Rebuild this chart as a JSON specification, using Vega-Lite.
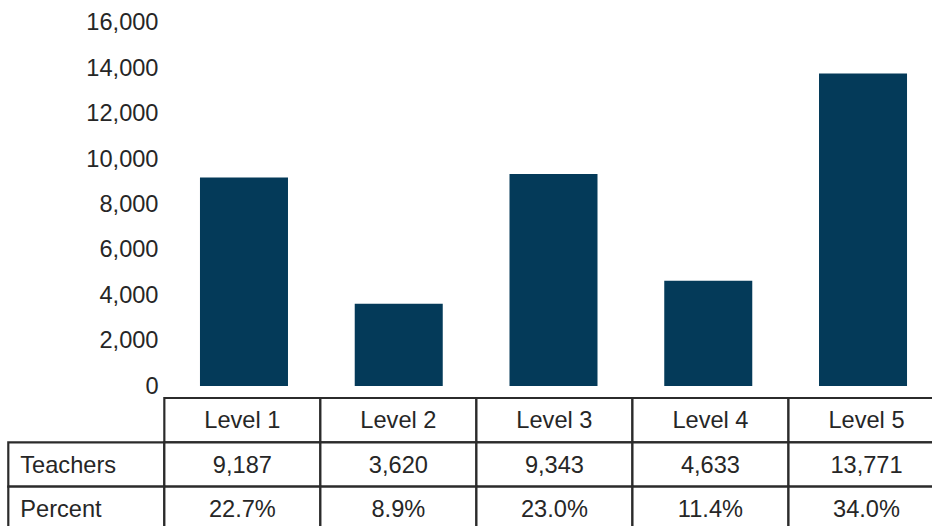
{
  "$schema": "https://vega.github.io/schema/vega-lite/v6.json",
  "width": 924,
  "height": 526,
  "autosize": {"type": "none"},
  "padding": {"left": 8, "top": 0, "right": 0, "bottom": 0},
  "background": "white",
  "config": {"view": {"stroke": null}, "font": "Liberation Sans"},
  "datasets": {
    "levels": [
      {"col": "Level 1", "teachers": 9187},
      {"col": "Level 2", "teachers": 3620},
      {"col": "Level 3", "teachers": 9343},
      {"col": "Level 4", "teachers": 4633},
      {"col": "Level 5", "teachers": 13771}
    ],
    "cells": [
      {"col": "Level 1", "row": "header", "text": "Level 1", "kind": "value"},
      {"col": "Level 2", "row": "header", "text": "Level 2", "kind": "value"},
      {"col": "Level 3", "row": "header", "text": "Level 3", "kind": "value"},
      {"col": "Level 4", "row": "header", "text": "Level 4", "kind": "value"},
      {"col": "Level 5", "row": "header", "text": "Level 5", "kind": "value"},
      {"col": "Label", "row": "Teachers", "text": "Teachers", "kind": "label"},
      {"col": "Level 1", "row": "Teachers", "text": "9,187", "kind": "value"},
      {"col": "Level 2", "row": "Teachers", "text": "3,620", "kind": "value"},
      {"col": "Level 3", "row": "Teachers", "text": "9,343", "kind": "value"},
      {"col": "Level 4", "row": "Teachers", "text": "4,633", "kind": "value"},
      {"col": "Level 5", "row": "Teachers", "text": "13,771", "kind": "value"},
      {"col": "Label", "row": "Percent", "text": "Percent", "kind": "label"},
      {"col": "Level 1", "row": "Percent", "text": "22.7%", "kind": "value"},
      {"col": "Level 2", "row": "Percent", "text": "8.9%", "kind": "value"},
      {"col": "Level 3", "row": "Percent", "text": "23.0%", "kind": "value"},
      {"col": "Level 4", "row": "Percent", "text": "11.4%", "kind": "value"},
      {"col": "Level 5", "row": "Percent", "text": "34.0%", "kind": "value"}
    ]
  },
  "layer": [
    {
      "data": {"name": "levels"},
      "mark": {"type": "bar", "color": "#043a59", "width": {"band": 0.5687}},
      "encoding": {
        "x": {
          "field": "col",
          "type": "nominal",
          "scale": {
            "domain": ["Level 1", "Level 2", "Level 3", "Level 4", "Level 5"],
            "range": [158.6, 932.4],
            "paddingInner": 0,
            "paddingOuter": 0
          },
          "axis": null
        },
        "y": {
          "field": "teachers",
          "type": "quantitative",
          "scale": {"domain": [0, 16000], "range": [386, 22.8], "nice": false, "zero": false},
          "axis": {
            "orient": "left",
            "offset": -156.5,
            "domain": false,
            "ticks": false,
            "grid": false,
            "title": null,
            "values": [0, 2000, 4000, 6000, 8000, 10000, 12000, 14000, 16000],
            "format": ",.0f",
            "labelPadding": 6.5,
            "labelFontSize": 23.6,
            "labelColor": "#262626",
            "labelFont": "Liberation Sans"
          }
        },
        "y2": {"datum": 0}
      }
    },
    {
      "data": {"name": "cells"},
      "encoding": {
        "x": {
          "field": "col",
          "type": "nominal",
          "scale": {
            "domain": ["Label", "Level 1", "Level 2", "Level 3", "Level 4", "Level 5"],
            "range": [0.3, 936.5],
            "paddingInner": 0,
            "paddingOuter": 0
          },
          "axis": null
        },
        "y": {
          "field": "row",
          "type": "nominal",
          "scale": {"domain": ["header", "Teachers", "Percent"], "range": [398, 531], "paddingInner": 0, "paddingOuter": 0},
          "axis": null
        }
      },
      "layer": [
        {
          "mark": {"type": "rect", "fill": "white", "stroke": "#2b2b2b", "strokeWidth": 2.2},
          "encoding": {}
        },
        {
          "transform": [{"filter": "datum.kind === 'value'"}],
          "mark": {"type": "text", "fontSize": 23.6, "color": "#262626", "align": "center", "baseline": "middle", "dy": 1},
          "encoding": {"text": {"field": "text"}}
        },
        {
          "transform": [{"filter": "datum.kind === 'label'"}],
          "mark": {"type": "text", "fontSize": 23.6, "color": "#262626", "align": "left", "baseline": "middle", "dx": 12, "dy": 1},
          "encoding": {"text": {"field": "text"}, "x": {"field": "col", "type": "nominal", "bandPosition": 0}}
        }
      ]
    }
  ],
  "resolve": {"scale": {"x": "independent", "y": "independent"}}
}
